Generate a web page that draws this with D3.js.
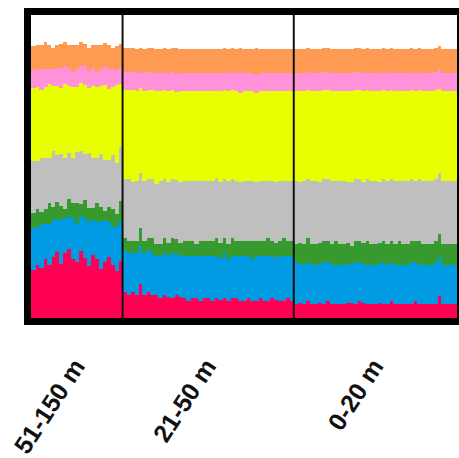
<!DOCTYPE html>
<html>
<head>
<meta charset="utf-8">
<script src="https://cdn.jsdelivr.net/npm/d3@7"></script>
<style>
  html, body { margin: 0; padding: 0; background: #ffffff; }
  svg { display: block; }
  text { font-family: "Liberation Sans", Arial, sans-serif; font-weight: bold; }
</style>
</head>
<body>
<svg id="chart" width="459" height="458"></svg>
<script>
// Depth groups (sampling ranges) and the number of individuals in each
const groups = ["51-150 m", "21-50 m", "0-20 m"];
const groupSizes = [23, 43, 41];

// Cluster names, bottom to top, and their colours
const clusters = ["red", "blue", "green", "grey", "yellow", "pink", "orange", "white"];
const clusterColors = ["#ff0052", "#009be3", "#379a2f", "#bfbfbf", "#e8ff00", "#ff92d8", "#ff9a52", "#ffffff"];

// Membership proportions (%) per individual, one array per cluster,
// individuals ordered 51-150 m, then 21-50 m, then 0-20 m
const red = [
  16,18,17,20,18,21,23,19,22,24,20,19,23,21,18,22,20,17,19,21,18,16,20,
  9,8,9,8,12,8,9,8,8,7,8,7,7,8,7,7,6,7,7,6,7,7,6,7,6,7,6,7,7,6,6,7,6,6,7,6,6,7,6,6,6,7,6,
  5,5,5,6,5,5,5,5,6,5,5,5,5,5,5,5,6,5,5,5,5,5,5,5,6,5,5,5,5,5,6,5,5,5,5,5,8,5,5,5,5
];
const blue = [
  14,13,15,12,14,13,11,15,12,11,14,13,12,14,15,12,13,16,14,12,13,15,14,
  14,14,13,14,13,14,14,14,13,14,14,14,15,14,14,14,15,14,14,15,14,14,15,14,14,15,14,14,14,15,15,14,14,15,14,15,15,14,14,15,15,14,15,
  14,13,13,13,13,13,13,14,13,13,13,13,13,13,13,14,13,13,13,13,13,13,14,13,13,13,13,13,13,14,13,13,13,13,13,14,14,13,13,13,13
];
const green = [
  5,6,4,5,7,4,6,5,3,6,5,7,4,6,5,4,6,5,3,5,6,4,7,
  4,4,4,4,6,4,4,5,4,4,5,4,5,5,4,5,5,5,4,5,5,5,5,6,5,5,5,6,5,5,5,5,6,5,5,5,6,5,5,5,6,5,5,
  6,7,7,8,7,7,7,7,7,7,8,7,7,7,6,7,7,7,8,7,7,7,7,7,7,7,8,7,7,7,7,8,7,7,7,7,8,7,7,7,7
];
const grey = [
  17,16,18,17,15,19,16,18,17,16,15,17,18,16,19,17,15,18,17,16,18,17,19,
  20,21,20,20,19,20,20,20,20,21,20,20,20,20,20,20,20,20,21,20,20,20,20,20,20,20,21,20,20,20,20,20,20,20,20,20,19,20,20,20,19,20,20,
  21,20,21,20,21,21,20,21,21,21,20,21,21,20,21,21,21,20,21,21,21,20,21,21,21,21,20,21,21,21,20,21,21,21,21,21,22,21,21,21,21
];
const yellow = [
  24,25,23,24,25,22,24,23,25,23,24,22,23,24,22,25,24,23,25,24,23,26,22,
  30,30,31,30,29,30,30,30,31,30,30,30,30,30,30,30,30,30,30,30,30,30,30,29,30,30,30,30,30,30,30,30,30,30,30,30,30,30,30,30,30,30,30,
  30,30,30,30,30,30,30,30,30,30,30,30,30,30,30,30,30,30,30,30,30,30,30,30,30,30,30,30,30,30,30,30,30,30,30,30,30,30,30,30,30
];
const pink = [
  6,6,7,6,5,6,6,7,6,6,5,6,6,7,6,6,5,6,6,7,6,5,6,
  6,6,6,6,6,6,6,6,6,6,6,6,6,6,6,6,6,6,6,6,6,6,6,6,6,6,6,6,6,7,6,6,6,6,6,6,6,6,6,6,6,6,6,
  6,6,6,6,6,6,6,6,6,6,6,6,6,6,6,6,6,6,6,6,6,6,6,6,6,6,6,6,6,6,6,6,6,6,6,6,7,6,6,6,6
];
const orange = [
  8,8,8,9,8,7,8,8,8,8,9,8,8,7,8,8,9,8,8,8,7,8,8,
  8,8,8,8,8,8,8,8,8,8,8,8,8,9,8,8,8,8,8,8,8,8,8,8,8,8,8,8,8,8,8,8,8,9,8,8,8,8,8,8,8,8,8,
  8,8,8,8,8,8,8,8,8,8,8,8,8,8,8,8,8,8,8,8,8,8,8,8,8,8,8,8,8,8,8,8,8,8,8,8,8,8,8,8,8
];
const white = [
  10,10,10,9,10,11,10,10,9,10,10,10,9,10,11,10,10,10,9,10,11,10,10,
  11,11,11,11,11,11,11,11,11,11,11,11,11,11,11,11,11,11,11,11,11,11,11,11,11,11,11,11,11,11,11,11,11,11,11,11,11,11,11,11,11,11,11,
  11,11,11,11,11,11,11,11,11,11,11,11,11,11,11,11,11,11,11,11,11,11,11,11,11,11,11,11,11,11,11,11,11,11,11,11,11,11,11,11,11
];

const series = { red, blue, green, grey, yellow, pink, orange, white };
const nInd = red.length;
const rows = d3.range(nInd).map(i => {
  const row = { id: i };
  clusters.forEach(c => { row[c] = series[c][i]; });
  return row;
});

// Plot frame
const plot = { left: 31, top: 15, width: 426, height: 303 };

const x = d3.scaleBand()
  .domain(d3.range(nInd))
  .range([plot.left, plot.left + plot.width])
  .paddingInner(0).paddingOuter(0);

const y = d3.scaleLinear()
  .domain([0, 1])
  .range([plot.top + plot.height, plot.top]);

const color = d3.scaleOrdinal().domain(clusters).range(clusterColors);

const stacked = d3.stack()
  .keys(clusters)
  .offset(d3.stackOffsetExpand)(rows);

const svg = d3.select("#chart");

svg.append("g")
  .selectAll("g")
  .data(stacked)
  .join("g")
  .attr("fill", d => color(d.key))
  .selectAll("rect")
  .data(d => d)
  .join("rect")
  .attr("x", d => x(d.data.id))
  .attr("width", x.bandwidth() + 0.6)
  .attr("y", d => y(d[1]))
  .attr("height", d => y(d[0]) - y(d[1]) + 0.6)
  .attr("shape-rendering", "crispEdges");

// Group dividers
const starts = d3.cumsum(groupSizes);
const dividers = Array.from(starts).slice(0, -1);
svg.append("g")
  .selectAll("line")
  .data(dividers)
  .join("line")
  .attr("x1", d => x(d)).attr("x2", d => x(d))
  .attr("y1", plot.top).attr("y2", plot.top + plot.height)
  .attr("stroke", "#111")
  .attr("stroke-width", 2);

// Heavy outer frame
const bw = 7;
svg.append("rect")
  .attr("x", plot.left - bw / 2)
  .attr("y", plot.top - bw / 2)
  .attr("width", plot.width + bw)
  .attr("height", plot.height + bw)
  .attr("fill", "none")
  .attr("stroke", "#000")
  .attr("stroke-width", bw);

// Rotated group labels
const groupStart = [0].concat(Array.from(starts).slice(0, -1));
const centers = groupStart.map((s, i) => (x(s) + x(s + groupSizes[i] - 1) + x.bandwidth()) / 2);

svg.append("g")
  .selectAll("text")
  .data(groups)
  .join("text")
  .attr("transform", (d, i) => `translate(${centers[i] + 9},${366}) rotate(-57)`)
  .attr("text-anchor", "end")
  .attr("font-size", 25)
  .attr("fill", "#111")
  .text(d => d);
</script>
</body>
</html>
